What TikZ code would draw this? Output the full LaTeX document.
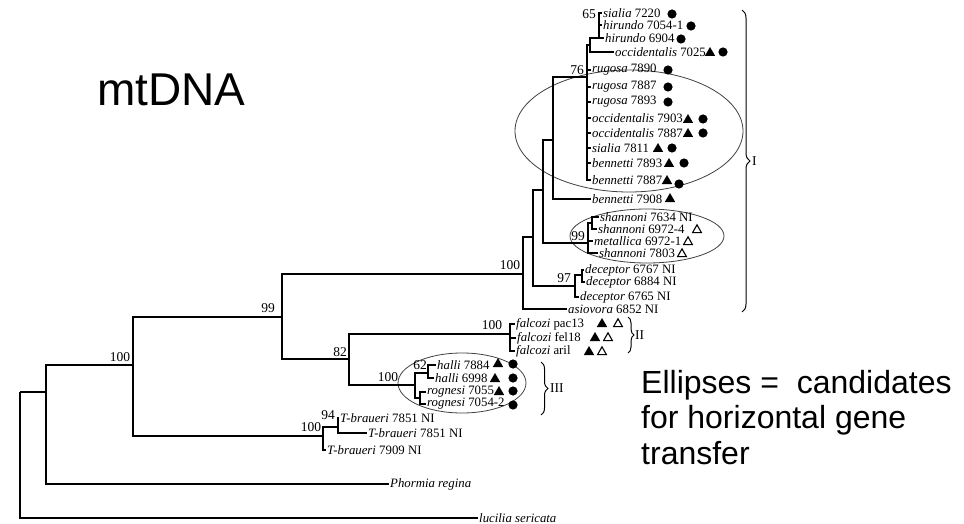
\documentclass[tikz,border=0pt]{standalone}
\usepackage{fontspec}
\setmainfont{Liberation Serif}
\newfontfamily\slidefont{Liberation Sans}
\usetikzlibrary{positioning,calc,shapes.geometric,decorations.pathreplacing}

\newcommand{\spc}[1]{\textit{#1}}

\begin{document}
\begin{tikzpicture}[
  x=1pt, y=-1pt,
  leaf/.style={anchor=west, inner sep=1pt, font=\fontsize{12.8}{13}\selectfont},
  boot/.style={inner sep=0pt, font=\fontsize{13.5}{14}\selectfont},
  branch/.style={line width=1.2pt},
  hgt/.style={draw=black!75, ellipse, line width=.8pt, inner sep=0pt},
  clade/.style={decorate, decoration={brace, amplitude=#1}, line width=1pt},
  clade/.default=7pt,
  fdot/.pic={\fill (0,0) circle (4.6);},
  ftri/.pic={\fill (-5.2,4) -- (5.2,4) -- (0,-5) -- cycle;},
  otri/.pic={\draw[line width=1.1pt] (-4.4,3.6) -- (4.4,3.6) -- (0,-4.2) -- cycle;}
]
\useasboundingbox (0,0) rectangle (964,524);

% slide texts
\node[anchor=base west, inner sep=0pt, font=\slidefont\fontsize{46}{50}\selectfont] (title) at (97,106) {mtDNA};
\node[anchor=north west, align=left, inner sep=0pt, font=\slidefont\fontsize{32}{35.5}\selectfont] (note) at (641,370) {Ellipses = \ candidates\\for horizontal gene\\transfer};

% candidate ellipses
\node[hgt, minimum width=228, minimum height=122] (hgtI) at (629,131) {};
\node[hgt, minimum width=154, minimum height=54] (hgtsh) at (647,236) {};
\node[hgt, minimum width=128, minimum height=60] (hgthr) at (462,383) {};

% leaves, group I
\node[leaf] (sia7220) at (602,13) {\spc{sialia} 7220};
\node[leaf] (hir7054) at (602,25) {\spc{hirundo} 7054-1};
\node[leaf] (hir6904) at (604,38) {\spc{hirundo} 6904};
\node[leaf] (occ7025) at (614,52) {\spc{occidentalis} 7025};
\node[leaf] (rug7890) at (591,70) {\spc{rugosa} 7890};
\node[leaf] (rug7887) at (591,87) {\spc{rugosa} 7887};
\node[leaf] (rug7893) at (591,102) {\spc{rugosa} 7893};
\node[leaf] (occ7903) at (591,118) {\spc{occidentalis} 7903};
\node[leaf] (occ7887) at (591,133) {\spc{occidentalis} 7887};
\node[leaf] (sia7811) at (591,148) {\spc{sialia} 7811};
\node[leaf] (ben7893) at (591,163) {\spc{bennetti} 7893};
\node[leaf] (ben7887) at (591,180) {\spc{bennetti} 7887};
\node[leaf] (ben7908) at (591,199) {\spc{bennetti} 7908};
\node[leaf] (sha7634) at (599,217) {\spc{shannoni} 7634 NI};
\node[leaf] (sha6972) at (597,229) {\spc{shannoni} 6972-4};
\node[leaf] (met6972) at (593,241) {\spc{metallica} 6972-1};
\node[leaf] (sha7803) at (598,253) {\spc{shannoni} 7803};
\node[leaf] (dec6767) at (584,270) {\spc{deceptor} 6767 NI};
\node[leaf] (dec6884) at (585,282) {\spc{deceptor} 6884 NI};
\node[leaf] (dec6765) at (579,297) {\spc{deceptor} 6765 NI};
\node[leaf] (asi6852) at (567,309) {\spc{asiovora} 6852 NI};
% leaves, groups II and III
\node[leaf] (falpac) at (515,324) {\spc{falcozi} pac13};
\node[leaf] (falfel) at (516,338) {\spc{falcozi} fel18};
\node[leaf] (falari) at (515,351) {\spc{falcozi} aril};
\node[leaf] (hal7884) at (436,365) {\spc{halli} 7884};
\node[leaf] (hal6998) at (434,378) {\spc{halli} 6998};
\node[leaf] (rog7055) at (426,392) {\spc{rognesi} 7055};
\node[leaf] (rog7054) at (426,404) {\spc{rognesi} 7054-2};
% outgroups
\node[leaf] (tbr7851a) at (339,418) {\spc{T-braueri} 7851 NI};
\node[leaf] (tbr7851b) at (367,433) {\spc{T-braueri} 7851 NI};
\node[leaf] (tbr7909) at (326,450) {\spc{T-braueri} 7909 NI};
\node[leaf] (phormia) at (389,484) {\spc{Phormia regina}};
\node[leaf] (lucilia) at (478,518) {\spc{lucilia sericata}};

% internal nodes
\coordinate (root) at (20,392);
\coordinate (n1) at (46,392);
\coordinate (n2) at (133,365);
\coordinate (n3) at (282,317);
\coordinate (nT) at (323,436);
\coordinate (n94) at (338,427);
\coordinate (n82) at (349,359);
\coordinate (nfal) at (510,334);
\coordinate (nhr) at (415,385);
\coordinate (nhal) at (428,373);
\coordinate (nrog) at (420,398);
\coordinate (nI) at (523,274);
\coordinate (nA) at (533,237);
\coordinate (nB) at (543,190);
\coordinate (nC) at (553,140);
\coordinate (n76) at (587,77);
\coordinate (n65b) at (590,45);
\coordinate (n65) at (599,38);
\coordinate (n99) at (588,243);
\coordinate (nsha) at (592,223);
\coordinate (n97) at (575,286);
\coordinate (ndec) at (582,275);

% branches
\draw[branch] (root) |- (n1) (root) |- (lucilia.west);
\draw[branch] (n1) |- (n2) (n1) |- (phormia.west);
\draw[branch] (n2) |- (n3) (n2) |- (nT);
\draw[branch] (nT) |- (n94) (nT) |- (tbr7909.west);
\draw[branch] (n94) |- (tbr7851a.west) (n94) |- (tbr7851b.west);
\draw[branch] (n3) |- (nI) (n3) |- (n82);
\draw[branch] (n82) |- (nfal) (n82) |- (nhr);
\draw[branch] (nfal) |- (falpac.west) (nfal) |- (falfel.west) (nfal) |- (falari.west);
\draw[branch] (nhr) |- (nhal) (nhr) |- (nrog);
\draw[branch] (nhal) |- (hal7884.west) (nhal) |- (hal6998.west);
\draw[branch] (nrog) |- (rog7055.west) (nrog) |- (rog7054.west);
\draw[branch] (nI) |- (nA) (nI) |- (asi6852.west);
\draw[branch] (nA) |- (nB) (nA) |- (n97);
\draw[branch] (n97) |- (ndec) (n97) |- (dec6765.west);
\draw[branch] (ndec) |- (dec6767.west) (ndec) |- (dec6884.west);
\draw[branch] (nB) |- (nC) (nB) |- (n99);
\draw[branch] (n99) |- (nsha) (n99) |- (met6972.west) (n99) |- (sha7803.west);
\draw[branch] (nsha) |- (sha7634.west) (nsha) |- (sha6972.west);
\draw[branch] (nC) |- (n76) (nC) |- (ben7908.west);
\draw[branch] (n76) |- (n65b) (n76) |- (rug7890.west) (n76) |- (rug7887.west)
  (n76) |- (rug7893.west) (n76) |- (occ7903.west) (n76) |- (occ7887.west)
  (n76) |- (sia7811.west) (n76) |- (ben7893.west) (n76) |- (ben7887.west);
\draw[branch] (n65b) |- (n65) (n65b) |- (occ7025.west);
\draw[branch] (n65) |- (sia7220.west) (n65) |- (hir7054.west) (n65) |- (hir6904.west);

% bootstrap values
\node[boot] (b65) at (589,14) {65};
\node[boot] (b76) at (577,70) {76};
\node[boot] (b99sh) at (578,236) {99};
\node[boot] (b97) at (564,278) {97};
\node[boot] (b100I) at (510,265) {100};
\node[boot] (b99) at (268,308) {99};
\node[boot] (b100a) at (120,357) {100};
\node[boot] (b82) at (340,352) {82};
\node[boot] (b100fal) at (492,325) {100};
\node[boot] (b100hr) at (388,377) {100};
\node[boot] (b62) at (420,365) {62};
\node[boot] (b100T) at (311,427) {100};
\node[boot] (b94) at (328,415) {94};

% markers
\pic at (672,14) {fdot};
\pic at (691,26) {fdot};
\pic at (681,39) {fdot};
\pic at (710,52) {ftri}; \pic at (723,52) {fdot};
\pic at (668,70) {fdot};
\pic at (668,87) {fdot};
\pic at (668,102) {fdot};
\pic at (688,119) {ftri}; \pic at (703,119) {fdot};
\pic at (688,133) {ftri}; \pic at (703,133) {fdot};
\pic at (658,148) {ftri}; \pic at (672,148) {fdot};
\pic at (669,163) {ftri}; \pic at (684,163) {fdot};
\pic at (667,180) {ftri}; \pic at (679,184) {fdot};
\pic at (670,198) {ftri};
\pic at (697,229) {otri};
\pic at (688,241) {otri};
\pic at (682,253) {otri};
\pic at (602,323) {ftri}; \pic at (618,323) {otri};
\pic at (595,337) {ftri}; \pic at (608,337) {otri};
\pic at (589,351) {ftri}; \pic at (602,351) {otri};
\pic at (498,363) {ftri}; \pic at (513,364) {fdot};
\pic at (495,378) {ftri}; \pic at (513,378) {fdot};
\pic at (499,391) {ftri}; \pic at (513,391) {fdot};
\pic at (513,405) {fdot};

% clade braces
\draw[clade=8pt] (742,10) -- (742,312);
\node[boot, anchor=west] (labI) at (752,161) {I};
\draw[clade=6pt] (628,317) -- (628,353);
\node[boot, anchor=west] (labII) at (635,335) {II};
\draw[clade=7pt] (541,362) -- (541,415);
\node[boot, anchor=west] (labIII) at (550,388) {III};
\end{tikzpicture}
\end{document}
